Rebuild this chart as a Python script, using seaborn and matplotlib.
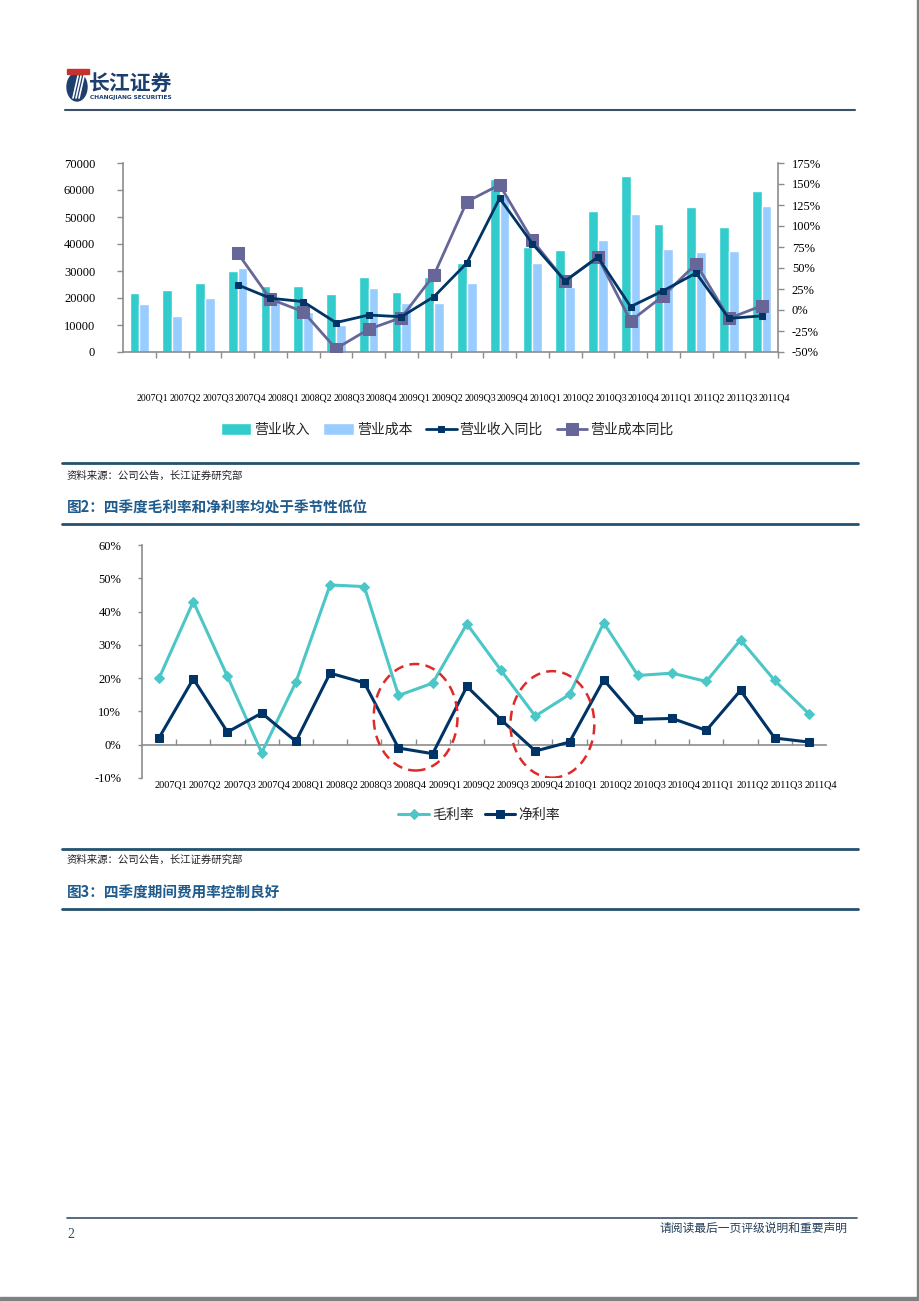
import numpy as np
import pandas as pd
import matplotlib
matplotlib.use("Agg")
from matplotlib import pyplot as plt
from matplotlib.patches import Ellipse, Rectangle
import seaborn as sns

quarters = ["2007Q1", "2007Q2", "2007Q3", "2007Q4", "2008Q1", "2008Q2", "2008Q3", "2008Q4",
            "2009Q1", "2009Q2", "2009Q3", "2009Q4", "2010Q1", "2010Q2", "2010Q3", "2010Q4",
            "2011Q1", "2011Q2", "2011Q3", "2011Q4"]

# 图1：营业收入 / 营业成本（万元）及同比
revenue = [21700, 23000, 25400, 30100, 24600, 24600, 21500, 27900, 22300, 27900,
           33100, 64000, 39000, 37800, 52200, 65200, 47400, 53600, 46200, 59700]
cost = [17700, 13300, 20100, 31000, 20500, 14900, 10000, 23800, 18000, 18000,
        25400, 58000, 33100, 24200, 41500, 51100, 38300, 36900, 37400, 54200]
# 同比从2007Q4开始
revenue_yoy = [0.30, 0.14, 0.10, -0.15, -0.06, -0.08, 0.16, 0.56, 1.33, 0.79,
               0.345, 0.63, 0.04, 0.23, 0.44, -0.10, -0.07]
cost_yoy = [0.68, 0.13, -0.02, -0.46, -0.23, -0.09, 0.42, 1.29, 1.49, 0.83,
            0.345, 0.63, -0.13, 0.17, 0.55, -0.10, 0.05]
yoy_start = 3

# 图2：毛利率 / 净利率
gross_margin = [0.20, 0.43, 0.205, -0.024, 0.188, 0.48, 0.475, 0.148, 0.185, 0.363,
                0.223, 0.086, 0.151, 0.366, 0.208, 0.215, 0.19, 0.315, 0.193, 0.093]
net_margin = [0.021, 0.198, 0.038, 0.095, 0.01, 0.215, 0.186, -0.01, -0.027, 0.175,
              0.075, -0.019, 0.008, 0.195, 0.076, 0.079, 0.043, 0.163, 0.02, 0.008]
circled = [("2008Q4", "2009Q1"), ("2009Q4", "2010Q1")]

TEAL = "#33CCCC"
LIGHT_BLUE = "#99CCFF"
NAVY = "#003366"
PURPLE = "#666699"
GM_TEAL = "#4CC6C6"
RULE = "#25506f"
TITLE_BLUE = "#1f5b8c"
AXIS_GRAY = "#8c8c8c"
SERIF = "Liberation Serif"

sns.set_theme(style="white")
plt.rcParams["font.family"] = ["Noto Sans CJK SC", "DejaVu Sans"]
plt.rcParams["axes.unicode_minus"] = False

W, H = 920, 1301
fig = plt.figure(figsize=(W / 100, H / 100), dpi=100)


def box(left, top, right, bottom):
    return [left / W, 1 - bottom / H, (right - left) / W, (bottom - top) / H]


def fx(x):
    return x / W


def fy(y):
    return 1 - y / H


def hrule(y, x0=62, x1=858, lw=2.0, color=RULE):
    fig.add_artist(plt.Line2D([fx(x0), fx(x1)], [fy(y), fy(y)], color=color, lw=lw))


def style_ticks(ax, xsize=9, ysize=9):
    for lab in ax.get_xticklabels():
        lab.set_fontfamily(SERIF)
        lab.set_fontsize(xsize)
        lab.set_color("black")
    for lab in ax.get_yticklabels():
        lab.set_fontfamily(SERIF)
        lab.set_fontsize(ysize)
        lab.set_color("black")


# ---------- 页眉 ----------
fig.add_artist(Ellipse((fx(77), fy(87)), 20 / W, 28 / H, color="#1c3f6e"))
for k in range(3):
    fig.add_artist(plt.Line2D([fx(73 + 3 * k), fx(78 + 3 * k)], [fy(98), fy(76)],
                              color="white", lw=1.2))
fig.add_artist(Rectangle((fx(67), fy(74)), 22 / W, 5 / H, color="#c8322d"))
fig.text(fx(89), fy(83), "长江证券", fontsize=15, fontweight="bold", color="#1c3f6e",
         va="center", ha="left")
fig.text(fx(90), fy(98), "CHANGJIANG SECURITIES", fontsize=4.2, fontweight="bold",
         color="#1c3f6e", va="center", ha="left", family="DejaVu Sans")
hrule(110, 65, 855, lw=1.5, color="#3b5069")

# ---------- 图1 ----------
df1 = pd.DataFrame({"quarter": quarters * 2,
                    "value": revenue + cost,
                    "series": ["营业收入"] * len(quarters) + ["营业成本"] * len(quarters)})
ax1 = fig.add_axes(box(123, 163, 778, 352))
sns.barplot(data=df1, x="quarter", y="value", hue="series", palette=[TEAL, LIGHT_BLUE],
            width=0.6, saturation=1, ax=ax1, legend=True)
ax1.set_ylim(0, 70000)
ax1.set_xlim(-0.5, len(quarters) - 0.5)
ax1.set_yticks(np.arange(0, 70001, 10000))
ax1.set_xlabel("")
ax1.set_ylabel("")

ax1r = ax1.twinx()
x_yoy = np.arange(yoy_start, len(quarters))
sns.lineplot(x=x_yoy, y=cost_yoy, color=PURPLE, lw=2, marker="s", markersize=8,
             markeredgecolor=PURPLE, label="营业成本同比", ax=ax1r, sort=False)
sns.lineplot(x=x_yoy, y=revenue_yoy, color=NAVY, lw=2, marker="s", markersize=5,
             markeredgecolor=NAVY, label="营业收入同比", ax=ax1r, sort=False)
ax1r.set_ylim(-0.5, 1.75)
ax1r.set_yticks(np.arange(-0.5, 1.76, 0.25))
ax1r.set_yticklabels([f"{v:.0f}%" for v in np.arange(-50, 176, 25)])
ax1r.set_xlim(-0.5, len(quarters) - 0.5)

for a in (ax1, ax1r):
    for s in a.spines.values():
        s.set_visible(False)
ax1.spines["left"].set_visible(True)
ax1.spines["bottom"].set_visible(True)
ax1r.spines["right"].set_visible(True)
for s in (ax1.spines["left"], ax1.spines["bottom"], ax1r.spines["right"]):
    s.set_color(AXIS_GRAY)
    s.set_linewidth(1.2)

ax1.set_xticks(np.arange(len(quarters)) + 0.4)
ax1.set_xticklabels(quarters)
ax1.set_xticks(np.arange(len(quarters)) + 0.5, minor=True)
ax1.tick_params(axis="x", which="major", length=0, pad=30)
ax1.tick_params(axis="x", which="minor", length=4, width=1, color=AXIS_GRAY, direction="out",
                bottom=True)
ax1.tick_params(axis="y", length=4, width=1, color=AXIS_GRAY, direction="out", left=True, pad=16)
ax1r.tick_params(axis="y", length=4, width=1, color=AXIS_GRAY, direction="out", right=True, pad=6)
style_ticks(ax1, xsize=7.1)
style_ticks(ax1r)

h1, l1 = ax1.get_legend_handles_labels()
h2, l2 = ax1r.get_legend_handles_labels()
ax1.get_legend().remove()
ax1r.get_legend().remove()
handles = h1 + [h2[1], h2[0]]
labels = l1 + [l2[1], l2[0]]
fig.legend(handles, labels, loc="center", bbox_to_anchor=(fx(447), fy(430)), ncol=4,
           frameon=False, fontsize=10, handlelength=2.2, handleheight=0.9,
           handletextpad=0.2, columnspacing=1.0)

hrule(463)
fig.text(fx(67), fy(476), "资料来源：公司公告，长江证券研究部", fontsize=7.5, color="#222222",
         va="center", ha="left")
fig.text(fx(67), fy(508), "图2：四季度毛利率和净利率均处于季节性低位", fontsize=10.5,
         fontweight="bold", color=TITLE_BLUE, va="center", ha="left")
hrule(524)

# ---------- 图2 ----------
ax2 = fig.add_axes(box(142, 545, 826, 778))
xs = np.arange(len(quarters))
sns.lineplot(x=xs, y=gross_margin, color=GM_TEAL, lw=2.2, marker="D", markersize=5,
             markeredgecolor=GM_TEAL, label="毛利率", ax=ax2, sort=False)
sns.lineplot(x=xs, y=net_margin, color=NAVY, lw=2.2, marker="s", markersize=6,
             markeredgecolor=NAVY, label="净利率", ax=ax2, sort=False)
ax2.set_ylim(-0.1, 0.6)
ax2.set_xlim(-0.5, len(quarters) - 0.5)
ax2.set_yticks(np.arange(-0.1, 0.61, 0.1))
ax2.set_yticklabels([f"{v:.0f}%" for v in np.arange(-10, 61, 10)])
for s in ax2.spines.values():
    s.set_visible(False)
ax2.spines["left"].set_visible(True)
ax2.spines["left"].set_color(AXIS_GRAY)
ax2.spines["left"].set_linewidth(1.2)
ax2.set_xticks(xs + 0.35)
ax2.set_xticklabels(quarters)
ax2.tick_params(axis="x", length=0, pad=2)
ax2.tick_params(axis="y", length=3, width=1, color=AXIS_GRAY, direction="out", left=True, pad=12)
style_ticks(ax2, xsize=7.4)

zero_axis = ax2.secondary_xaxis(0.1 / 0.7)
zero_axis.spines["bottom"].set_color(AXIS_GRAY)
zero_axis.spines["bottom"].set_linewidth(1.2)
zero_axis.set_xticks(xs[:-1] + 0.5)
zero_axis.set_xticklabels([])
zero_axis.tick_params(axis="x", direction="in", length=4, width=1, color=AXIS_GRAY)

for q_a, q_b in circled:
    cx = (quarters.index(q_a) + quarters.index(q_b)) / 2
    cy = (net_margin[quarters.index(q_a)] + gross_margin[quarters.index(q_b)]) / 2
    ax2.add_patch(Ellipse((cx, cy - 0.005), 2.45, 0.32, fill=False, edgecolor="#dd2a2a",
                          lw=1.8, linestyle=(0, (4, 2.5)), zorder=5))

ax2.get_legend().remove()
hh, ll = ax2.get_legend_handles_labels()
fig.legend(hh, ll, loc="center", bbox_to_anchor=(fx(479), fy(815)), ncol=2, frameon=False,
           fontsize=10, handlelength=2.2, handletextpad=0.2, columnspacing=0.8)

hrule(849)
fig.text(fx(67), fy(860), "资料来源：公司公告，长江证券研究部", fontsize=7.5, color="#222222",
         va="center", ha="left")
fig.text(fx(67), fy(893), "图3：四季度期间费用率控制良好", fontsize=10.5,
         fontweight="bold", color=TITLE_BLUE, va="center", ha="left")
hrule(909)

# ---------- 页脚 ----------
hrule(1218, 67, 857, lw=1.2, color="#3b5069")
fig.text(fx(67), fy(1234), "2", fontsize=10, color="#25506f", family=SERIF, va="center",
         ha="left")
fig.text(fx(848), fy(1228), "请阅读最后一页评级说明和重要声明", fontsize=8.5, color="#25405a",
         va="center", ha="right")
fig.add_artist(Rectangle((fx(917), 0), 3 / W, 1, color="#808080"))
fig.add_artist(Rectangle((0, 0), 1, 4 / H, color="#808080"))

fig.savefig("out.png", dpi=100)
